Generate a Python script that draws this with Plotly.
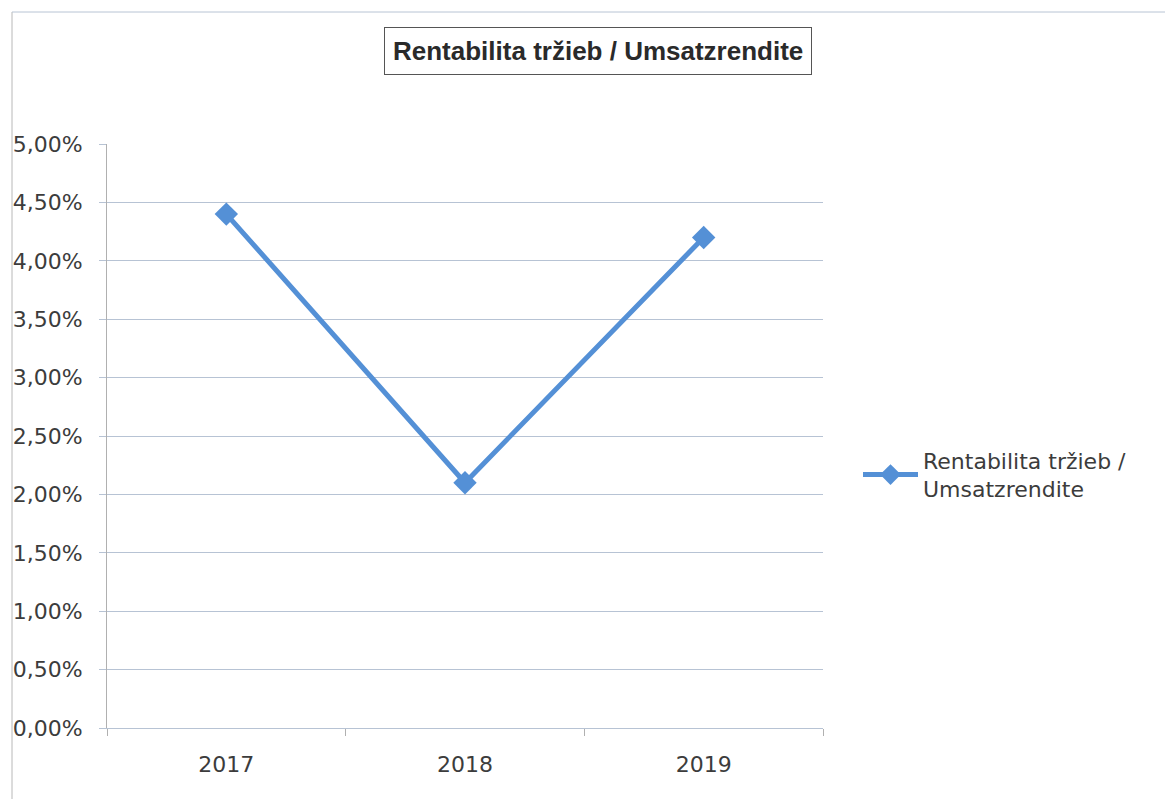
import plotly.graph_objects as go

years = ["2017", "2018", "2019"]
values = [0.044, 0.021, 0.042]
series_name = "Rentabilita tržieb /<br>Umsatzrendite"
title_text = "Rentabilita tržieb / Umsatzrendite"

# the page puts the figure at an 8px offset; work in screen px and subtract it
OFF = 8
W, H = 1173 - OFF, 799 - OFF
L, R, T, B = 107 - OFF, 823 - OFF, 144 - OFF, 728 - OFF

line_color = "#5490d6"
grid_color = "#b7c3d4"
text_color = "#3c3c3c"
tick_font = "DejaVu Sans, Lato, sans-serif"

fig = go.Figure()
fig.add_trace(go.Scatter(
    x=years, y=values, mode="lines+markers", name=series_name,
    line=dict(color=line_color, width=5),
    marker=dict(symbol="diamond", size=18, color=line_color),
))

fig.update_layout(
    width=W, height=H,
    margin=dict(l=L, r=W - R, t=T, b=H - B, autoexpand=False),
    paper_bgcolor="white", plot_bgcolor="white",
    separators=",.",
    showlegend=True,
    legend=dict(x=(858 - 107) / 716, y=(728 - 475) / 584, xanchor="left", yanchor="middle",
                font=dict(family=tick_font, size=22, color=text_color),
                itemwidth=55, bgcolor="rgba(0,0,0,0)"),
    font=dict(family=tick_font, color=text_color),
)

fig.update_yaxes(
    range=[0, 0.05], dtick=0.005, tickformat=".2%",
    showgrid=True, gridcolor=grid_color, gridwidth=1,
    showline=True, linecolor="#b0b0b0", linewidth=1,
    ticks="outside", ticklen=7, tickcolor=grid_color,
    tickfont=dict(size=22, color=text_color),
    ticklabelstandoff=12,
    zeroline=False, fixedrange=True,
)
fig.update_xaxes(
    type="category", range=[-0.5, 2.5],
    showgrid=False, showline=True, linecolor=grid_color, linewidth=1,
    ticks="outside", tickson="boundaries", ticklen=7, tickcolor="#b0b0b0",
    tickfont=dict(size=22, color=text_color),
    ticklabelstandoff=17,
    zeroline=False,
)

def px_x(px):
    return (px - 107) / (823 - 107)

def px_y(py):
    return (728 - py) / (728 - 144)

# outer chart border (left and top)
fig.add_shape(type="line", xref="paper", yref="paper",
              x0=px_x(12), x1=px_x(12), y0=px_y(12), y1=px_y(799),
              line=dict(color="#b8b8b8", width=1))
fig.add_shape(type="line", xref="paper", yref="paper",
              x0=px_x(12), x1=px_x(1173), y0=px_y(12), y1=px_y(12),
              line=dict(color="#b8c4d4", width=1))

fig.add_annotation(
    text="<b>" + title_text + "</b>",
    xref="paper", yref="paper", x=px_x(598), y=px_y(51),
    xanchor="center", yanchor="middle", showarrow=False,
    font=dict(family="Liberation Sans Narrow, Arial Narrow, Liberation Sans, sans-serif",
              size=26, color="#2a2a2a"),
    bordercolor="#555555", borderwidth=1, borderpad=8, bgcolor="white",
)

fig.write_html("out.html")
